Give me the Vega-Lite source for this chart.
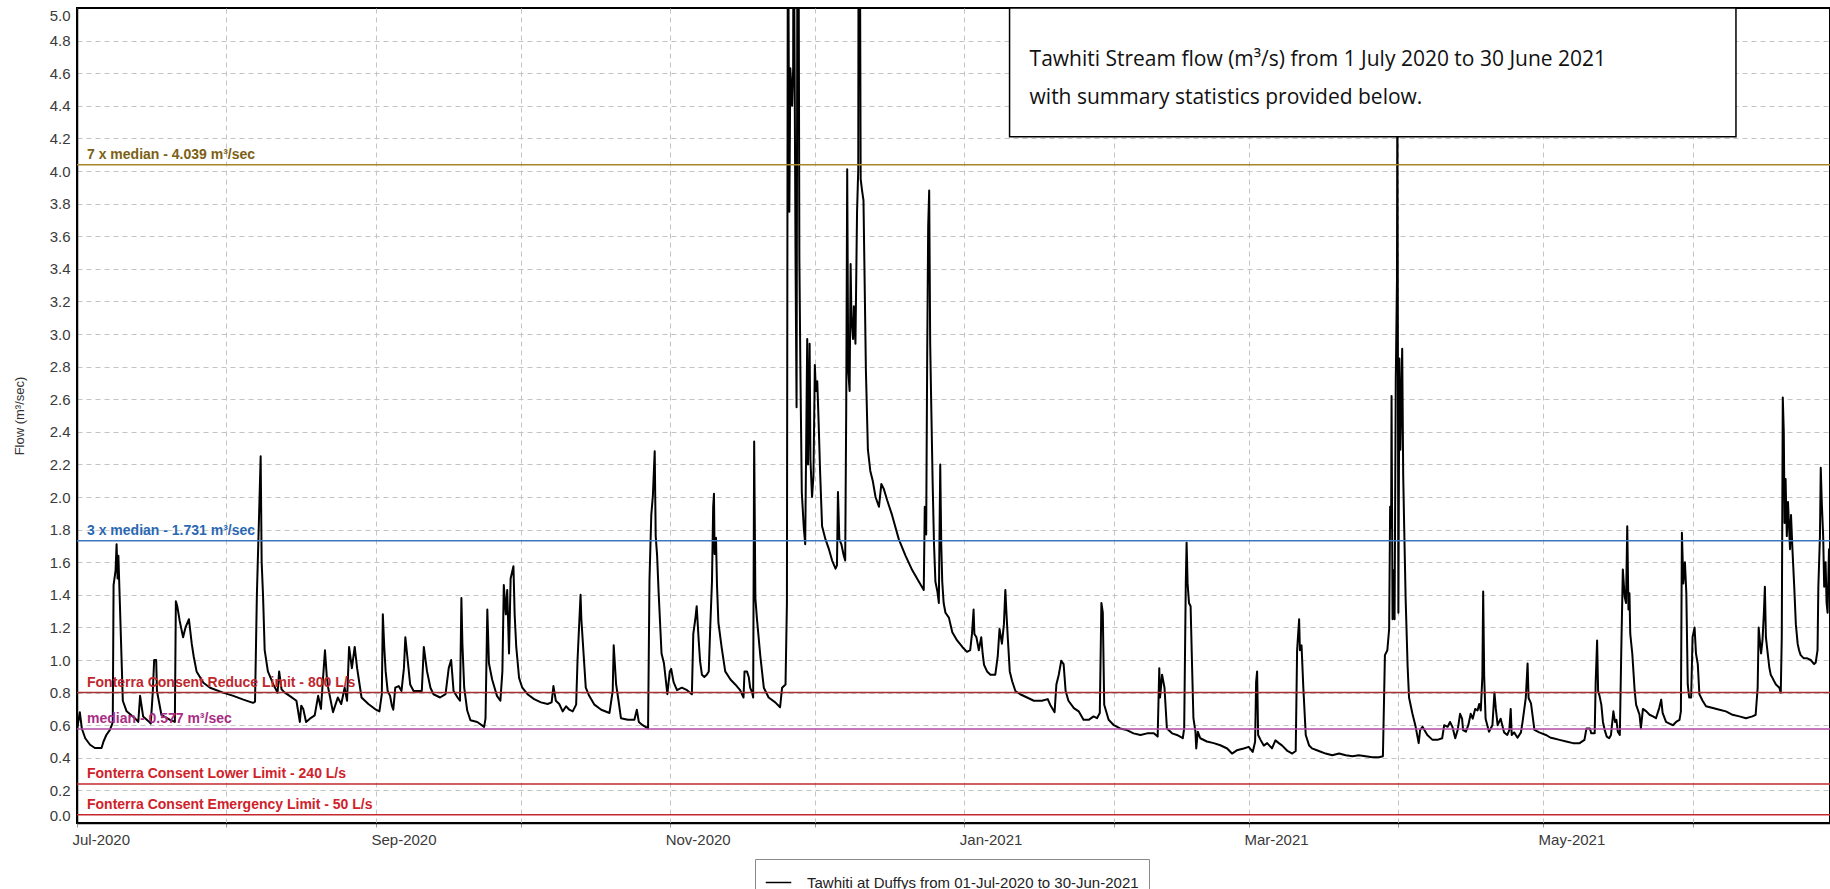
{
  "$schema": "https://vega.github.io/schema/vega-lite/v6.json",
  "width": 1753,
  "height": 815,
  "autosize": "none",
  "padding": {"left": 77, "top": 8, "right": 0, "bottom": 66},
  "background": "white",
  "config": {
    "view": {"stroke": "#000", "strokeWidth": 2},
    "axis": {
      "labelFont": "Liberation Sans",
      "labelFontSize": 15,
      "labelColor": "#3a3a3a",
      "labelOverlap": false,
      "gridColor": "#c4c4c4",
      "gridDash": [5, 4],
      "gridWidth": 1,
      "domainColor": "#000",
      "domainWidth": 1.5,
      "tickColor": "#999999"
    },
    "axisY": {"labelOverlap": false, "labelBound": false},
    "legend": {
      "strokeColor": "#8a8a8a",
      "fillColor": "white",
      "padding": 10,
      "symbolType": "stroke",
      "symbolSize": 650,
      "symbolStrokeWidth": 1.5,
      "labelFont": "Liberation Sans",
      "labelFontSize": 15,
      "labelColor": "#222222",
      "labelOffset": 15,
      "labelLimit": 0
    }
  },
  "datasets": {
    "flow": [
      {"t": "2020-07-01T00:00", "flow": 0.57}, {"t": "2020-07-01T14:00", "flow": 0.68}, {"t": "2020-07-02T00:00", "flow": 0.58},
      {"t": "2020-07-02T17:00", "flow": 0.52}, {"t": "2020-07-03T17:00", "flow": 0.48}, {"t": "2020-07-04T17:00", "flow": 0.46},
      {"t": "2020-07-06T02:00", "flow": 0.46}, {"t": "2020-07-06T12:00", "flow": 0.5}, {"t": "2020-07-07T02:00", "flow": 0.54},
      {"t": "2020-07-07T19:00", "flow": 0.57}, {"t": "2020-07-08T05:00", "flow": 0.6}, {"t": "2020-07-08T10:00", "flow": 0.62},
      {"t": "2020-07-08T14:00", "flow": 1.46}, {"t": "2020-07-09T00:00", "flow": 1.55}, {"t": "2020-07-09T05:00", "flow": 1.71},
      {"t": "2020-07-09T10:00", "flow": 1.5}, {"t": "2020-07-09T14:00", "flow": 1.64}, {"t": "2020-07-09T22:00", "flow": 1.32},
      {"t": "2020-07-10T12:00", "flow": 0.75}, {"t": "2020-07-11T07:00", "flow": 0.685}, {"t": "2020-07-13T00:00", "flow": 0.643},
      {"t": "2020-07-13T17:00", "flow": 0.62}, {"t": "2020-07-14T02:00", "flow": 0.78}, {"t": "2020-07-14T17:00", "flow": 0.654},
      {"t": "2020-07-16T00:00", "flow": 0.62}, {"t": "2020-07-16T07:00", "flow": 0.61}, {"t": "2020-07-16T17:00", "flow": 0.8},
      {"t": "2020-07-17T00:00", "flow": 1.0}, {"t": "2020-07-17T10:00", "flow": 1.0}, {"t": "2020-07-17T14:00", "flow": 0.81},
      {"t": "2020-07-18T12:00", "flow": 0.664}, {"t": "2020-07-20T07:00", "flow": 0.633}, {"t": "2020-07-21T07:00", "flow": 0.62},
      {"t": "2020-07-21T12:00", "flow": 1.36}, {"t": "2020-07-21T19:00", "flow": 1.33}, {"t": "2020-07-22T07:00", "flow": 1.24},
      {"t": "2020-07-23T00:00", "flow": 1.14}, {"t": "2020-07-23T12:00", "flow": 1.2}, {"t": "2020-07-24T05:00", "flow": 1.25},
      {"t": "2020-07-24T19:00", "flow": 1.1}, {"t": "2020-07-25T05:00", "flow": 1.02}, {"t": "2020-07-25T19:00", "flow": 0.93},
      {"t": "2020-07-27T05:00", "flow": 0.86}, {"t": "2020-07-28T14:00", "flow": 0.83}, {"t": "2020-07-31T07:00", "flow": 0.8},
      {"t": "2020-08-02T10:00", "flow": 0.78}, {"t": "2020-08-04T12:00", "flow": 0.757}, {"t": "2020-08-06T12:00", "flow": 0.737},
      {"t": "2020-08-06T22:00", "flow": 0.745}, {"t": "2020-08-07T07:00", "flow": 1.39}, {"t": "2020-08-07T19:00", "flow": 1.93},
      {"t": "2020-08-08T02:00", "flow": 2.25}, {"t": "2020-08-08T07:00", "flow": 1.6}, {"t": "2020-08-08T14:00", "flow": 1.39},
      {"t": "2020-08-08T22:00", "flow": 1.06}, {"t": "2020-08-09T14:00", "flow": 0.93}, {"t": "2020-08-10T17:00", "flow": 0.85},
      {"t": "2020-08-11T14:00", "flow": 0.8}, {"t": "2020-08-11T22:00", "flow": 0.93}, {"t": "2020-08-12T10:00", "flow": 0.82},
      {"t": "2020-08-13T02:00", "flow": 0.8}, {"t": "2020-08-14T02:00", "flow": 0.78}, {"t": "2020-08-15T12:00", "flow": 0.75},
      {"t": "2020-08-16T05:00", "flow": 0.62}, {"t": "2020-08-16T12:00", "flow": 0.72}, {"t": "2020-08-16T22:00", "flow": 0.7},
      {"t": "2020-08-17T12:00", "flow": 0.62}, {"t": "2020-08-18T07:00", "flow": 0.64}, {"t": "2020-08-19T07:00", "flow": 0.66},
      {"t": "2020-08-20T00:00", "flow": 0.78}, {"t": "2020-08-20T14:00", "flow": 0.7}, {"t": "2020-08-21T10:00", "flow": 1.06},
      {"t": "2020-08-21T19:00", "flow": 0.9}, {"t": "2020-08-22T02:00", "flow": 0.83}, {"t": "2020-08-23T02:00", "flow": 0.68},
      {"t": "2020-08-24T02:00", "flow": 0.77}, {"t": "2020-08-24T19:00", "flow": 0.73}, {"t": "2020-08-25T12:00", "flow": 0.83},
      {"t": "2020-08-26T00:00", "flow": 0.75}, {"t": "2020-08-26T10:00", "flow": 1.08}, {"t": "2020-08-27T00:00", "flow": 0.95},
      {"t": "2020-08-27T14:00", "flow": 1.08}, {"t": "2020-08-28T02:00", "flow": 0.95}, {"t": "2020-08-29T00:00", "flow": 0.77},
      {"t": "2020-08-30T10:00", "flow": 0.73}, {"t": "2020-09-01T00:00", "flow": 0.695}, {"t": "2020-09-01T17:00", "flow": 0.685},
      {"t": "2020-09-02T05:00", "flow": 0.79}, {"t": "2020-09-02T10:00", "flow": 1.28}, {"t": "2020-09-02T17:00", "flow": 1.08},
      {"t": "2020-09-03T00:00", "flow": 0.93}, {"t": "2020-09-03T10:00", "flow": 0.81}, {"t": "2020-09-03T22:00", "flow": 0.78},
      {"t": "2020-09-04T07:00", "flow": 0.72}, {"t": "2020-09-04T14:00", "flow": 0.695}, {"t": "2020-09-05T00:00", "flow": 0.83},
      {"t": "2020-09-05T17:00", "flow": 0.84}, {"t": "2020-09-06T07:00", "flow": 0.81}, {"t": "2020-09-06T19:00", "flow": 0.95},
      {"t": "2020-09-07T02:00", "flow": 1.14}, {"t": "2020-09-07T12:00", "flow": 1.02}, {"t": "2020-09-08T02:00", "flow": 0.85},
      {"t": "2020-09-08T19:00", "flow": 0.81}, {"t": "2020-09-10T12:00", "flow": 0.81}, {"t": "2020-09-10T22:00", "flow": 1.08},
      {"t": "2020-09-11T14:00", "flow": 0.93}, {"t": "2020-09-12T07:00", "flow": 0.83}, {"t": "2020-09-12T22:00", "flow": 0.79},
      {"t": "2020-09-14T07:00", "flow": 0.77}, {"t": "2020-09-15T10:00", "flow": 0.79}, {"t": "2020-09-16T02:00", "flow": 0.95},
      {"t": "2020-09-16T14:00", "flow": 1.0}, {"t": "2020-09-17T02:00", "flow": 0.81}, {"t": "2020-09-17T22:00", "flow": 0.77},
      {"t": "2020-09-18T10:00", "flow": 0.75}, {"t": "2020-09-18T17:00", "flow": 1.38}, {"t": "2020-09-18T22:00", "flow": 1.1},
      {"t": "2020-09-19T07:00", "flow": 0.83}, {"t": "2020-09-19T22:00", "flow": 0.69}, {"t": "2020-09-20T14:00", "flow": 0.63},
      {"t": "2020-09-22T00:00", "flow": 0.62}, {"t": "2020-09-23T10:00", "flow": 0.59}, {"t": "2020-09-23T17:00", "flow": 0.64},
      {"t": "2020-09-24T02:00", "flow": 1.31}, {"t": "2020-09-24T10:00", "flow": 0.98}, {"t": "2020-09-25T02:00", "flow": 0.88},
      {"t": "2020-09-25T14:00", "flow": 0.83}, {"t": "2020-09-26T02:00", "flow": 0.78}, {"t": "2020-09-26T19:00", "flow": 0.75},
      {"t": "2020-09-27T05:00", "flow": 0.93}, {"t": "2020-09-27T12:00", "flow": 1.46}, {"t": "2020-09-27T22:00", "flow": 1.28},
      {"t": "2020-09-28T05:00", "flow": 1.43}, {"t": "2020-09-28T14:00", "flow": 1.04}, {"t": "2020-09-28T22:00", "flow": 1.5},
      {"t": "2020-09-29T12:00", "flow": 1.575}, {"t": "2020-09-29T18:00", "flow": 1.28}, {"t": "2020-09-30T02:00", "flow": 1.08},
      {"t": "2020-09-30T16:00", "flow": 0.89}, {"t": "2020-10-01T08:00", "flow": 0.83}, {"t": "2020-10-02T10:00", "flow": 0.79},
      {"t": "2020-10-03T19:00", "flow": 0.76}, {"t": "2020-10-05T05:00", "flow": 0.74}, {"t": "2020-10-06T14:00", "flow": 0.73},
      {"t": "2020-10-07T10:00", "flow": 0.74}, {"t": "2020-10-07T19:00", "flow": 0.84}, {"t": "2020-10-08T07:00", "flow": 0.75},
      {"t": "2020-10-09T00:00", "flow": 0.73}, {"t": "2020-10-09T17:00", "flow": 0.685}, {"t": "2020-10-10T10:00", "flow": 0.716},
      {"t": "2020-10-11T02:00", "flow": 0.695}, {"t": "2020-10-11T19:00", "flow": 0.685}, {"t": "2020-10-12T12:00", "flow": 0.726},
      {"t": "2020-10-12T19:00", "flow": 1.0}, {"t": "2020-10-13T10:00", "flow": 1.4}, {"t": "2020-10-13T14:00", "flow": 1.25},
      {"t": "2020-10-14T02:00", "flow": 1.02}, {"t": "2020-10-14T12:00", "flow": 0.83}, {"t": "2020-10-15T05:00", "flow": 0.78},
      {"t": "2020-10-16T07:00", "flow": 0.726}, {"t": "2020-10-17T17:00", "flow": 0.695}, {"t": "2020-10-19T10:00", "flow": 0.675},
      {"t": "2020-10-20T02:00", "flow": 0.81}, {"t": "2020-10-20T07:00", "flow": 1.09}, {"t": "2020-10-20T19:00", "flow": 0.85},
      {"t": "2020-10-21T07:00", "flow": 0.75}, {"t": "2020-10-21T19:00", "flow": 0.643}, {"t": "2020-10-23T05:00", "flow": 0.633},
      {"t": "2020-10-24T14:00", "flow": 0.633}, {"t": "2020-10-25T02:00", "flow": 0.695}, {"t": "2020-10-25T12:00", "flow": 0.62},
      {"t": "2020-10-26T07:00", "flow": 0.6}, {"t": "2020-10-27T10:00", "flow": 0.58}, {"t": "2020-10-27T17:00", "flow": 1.49},
      {"t": "2020-10-28T02:00", "flow": 1.89}, {"t": "2020-10-28T10:00", "flow": 2.01}, {"t": "2020-10-28T19:00", "flow": 2.28},
      {"t": "2020-10-29T00:00", "flow": 1.76}, {"t": "2020-10-29T07:00", "flow": 1.64}, {"t": "2020-10-29T14:00", "flow": 1.43},
      {"t": "2020-10-29T22:00", "flow": 1.22}, {"t": "2020-10-30T05:00", "flow": 1.04}, {"t": "2020-10-30T17:00", "flow": 0.98},
      {"t": "2020-10-31T10:00", "flow": 0.79}, {"t": "2020-10-31T22:00", "flow": 0.93}, {"t": "2020-11-01T05:00", "flow": 0.945},
      {"t": "2020-11-01T17:00", "flow": 0.864}, {"t": "2020-11-02T10:00", "flow": 0.815}, {"t": "2020-11-03T10:00", "flow": 0.83},
      {"t": "2020-11-04T12:00", "flow": 0.815}, {"t": "2020-11-05T12:00", "flow": 0.79}, {"t": "2020-11-05T19:00", "flow": 1.16},
      {"t": "2020-11-06T05:00", "flow": 1.25}, {"t": "2020-11-06T12:00", "flow": 1.33}, {"t": "2020-11-06T22:00", "flow": 1.12},
      {"t": "2020-11-07T05:00", "flow": 0.99}, {"t": "2020-11-07T14:00", "flow": 0.91}, {"t": "2020-11-08T02:00", "flow": 0.896},
      {"t": "2020-11-08T14:00", "flow": 0.91}, {"t": "2020-11-09T00:00", "flow": 0.93}, {"t": "2020-11-09T07:00", "flow": 1.19},
      {"t": "2020-11-09T16:00", "flow": 1.48}, {"t": "2020-11-09T22:00", "flow": 1.94}, {"t": "2020-11-10T02:00", "flow": 2.02},
      {"t": "2020-11-10T05:00", "flow": 1.65}, {"t": "2020-11-10T12:00", "flow": 1.75}, {"t": "2020-11-10T17:00", "flow": 1.46},
      {"t": "2020-11-11T00:00", "flow": 1.23}, {"t": "2020-11-11T17:00", "flow": 1.07}, {"t": "2020-11-12T10:00", "flow": 0.93},
      {"t": "2020-11-13T12:00", "flow": 0.88}, {"t": "2020-11-14T12:00", "flow": 0.85}, {"t": "2020-11-15T12:00", "flow": 0.815},
      {"t": "2020-11-16T05:00", "flow": 0.77}, {"t": "2020-11-16T10:00", "flow": 0.93}, {"t": "2020-11-16T22:00", "flow": 0.93},
      {"t": "2020-11-17T07:00", "flow": 0.896}, {"t": "2020-11-17T14:00", "flow": 0.83}, {"t": "2020-11-18T00:00", "flow": 0.8},
      {"t": "2020-11-18T05:00", "flow": 0.77}, {"t": "2020-11-18T10:00", "flow": 2.34}, {"t": "2020-11-18T16:00", "flow": 1.38},
      {"t": "2020-11-19T00:00", "flow": 1.25}, {"t": "2020-11-19T17:00", "flow": 1.02}, {"t": "2020-11-20T10:00", "flow": 0.83},
      {"t": "2020-11-21T10:00", "flow": 0.77}, {"t": "2020-11-22T19:00", "flow": 0.74}, {"t": "2020-11-23T19:00", "flow": 0.71},
      {"t": "2020-11-24T05:00", "flow": 0.83}, {"t": "2020-11-24T22:00", "flow": 0.85}, {"t": "2020-11-25T05:00", "flow": 1.35},
      {"t": "2020-11-25T10:00", "flow": 6.0}, {"t": "2020-11-25T17:00", "flow": 3.75}, {"t": "2020-11-25T22:00", "flow": 4.63},
      {"t": "2020-11-26T07:00", "flow": 4.4}, {"t": "2020-11-26T12:00", "flow": 4.63}, {"t": "2020-11-26T14:00", "flow": 6.0},
      {"t": "2020-11-27T00:00", "flow": 3.43}, {"t": "2020-11-27T05:00", "flow": 2.55}, {"t": "2020-11-27T10:00", "flow": 6.0},
      {"t": "2020-11-27T14:00", "flow": 6.0}, {"t": "2020-11-27T19:00", "flow": 3.46}, {"t": "2020-11-28T00:00", "flow": 2.78},
      {"t": "2020-11-28T07:00", "flow": 2.03}, {"t": "2020-11-28T17:00", "flow": 1.81}, {"t": "2020-11-29T00:00", "flow": 1.71},
      {"t": "2020-11-29T10:00", "flow": 2.97}, {"t": "2020-11-29T14:00", "flow": 2.2}, {"t": "2020-11-29T22:00", "flow": 2.94},
      {"t": "2020-11-30T02:00", "flow": 2.23}, {"t": "2020-11-30T10:00", "flow": 2.0}, {"t": "2020-11-30T17:00", "flow": 2.13},
      {"t": "2020-12-01T00:00", "flow": 2.81}, {"t": "2020-12-01T05:00", "flow": 2.65}, {"t": "2020-12-01T12:00", "flow": 2.71},
      {"t": "2020-12-01T19:00", "flow": 2.45}, {"t": "2020-12-02T02:00", "flow": 2.16}, {"t": "2020-12-02T12:00", "flow": 1.82},
      {"t": "2020-12-03T05:00", "flow": 1.74}, {"t": "2020-12-03T22:00", "flow": 1.68}, {"t": "2020-12-04T14:00", "flow": 1.61},
      {"t": "2020-12-05T07:00", "flow": 1.56}, {"t": "2020-12-05T14:00", "flow": 1.58}, {"t": "2020-12-05T19:00", "flow": 2.03},
      {"t": "2020-12-06T02:00", "flow": 1.74}, {"t": "2020-12-06T12:00", "flow": 1.71}, {"t": "2020-12-07T00:00", "flow": 1.64},
      {"t": "2020-12-07T07:00", "flow": 1.61}, {"t": "2020-12-07T12:00", "flow": 2.52}, {"t": "2020-12-07T17:00", "flow": 4.01},
      {"t": "2020-12-07T22:00", "flow": 2.78}, {"t": "2020-12-08T05:00", "flow": 2.65}, {"t": "2020-12-08T10:00", "flow": 3.43},
      {"t": "2020-12-08T14:00", "flow": 3.1}, {"t": "2020-12-08T22:00", "flow": 2.97}, {"t": "2020-12-09T02:00", "flow": 3.17},
      {"t": "2020-12-09T10:00", "flow": 2.94}, {"t": "2020-12-09T18:00", "flow": 3.75}, {"t": "2020-12-10T00:00", "flow": 4.01},
      {"t": "2020-12-10T02:00", "flow": 6.0}, {"t": "2020-12-10T07:00", "flow": 6.0}, {"t": "2020-12-10T12:00", "flow": 3.95},
      {"t": "2020-12-10T19:00", "flow": 3.88}, {"t": "2020-12-11T02:00", "flow": 3.82}, {"t": "2020-12-11T08:00", "flow": 3.3},
      {"t": "2020-12-11T14:00", "flow": 2.78}, {"t": "2020-12-12T00:00", "flow": 2.29}, {"t": "2020-12-12T12:00", "flow": 2.16},
      {"t": "2020-12-13T00:00", "flow": 2.1}, {"t": "2020-12-13T14:00", "flow": 2.0}, {"t": "2020-12-14T07:00", "flow": 1.94},
      {"t": "2020-12-14T19:00", "flow": 2.08}, {"t": "2020-12-15T07:00", "flow": 2.05}, {"t": "2020-12-16T00:00", "flow": 1.98},
      {"t": "2020-12-17T00:00", "flow": 1.89}, {"t": "2020-12-18T10:00", "flow": 1.74}, {"t": "2020-12-19T19:00", "flow": 1.64},
      {"t": "2020-12-21T05:00", "flow": 1.55}, {"t": "2020-12-22T14:00", "flow": 1.48}, {"t": "2020-12-23T14:00", "flow": 1.43},
      {"t": "2020-12-23T19:00", "flow": 1.94}, {"t": "2020-12-24T02:00", "flow": 1.77}, {"t": "2020-12-24T07:00", "flow": 2.85},
      {"t": "2020-12-24T12:00", "flow": 3.66}, {"t": "2020-12-24T17:00", "flow": 3.88}, {"t": "2020-12-24T22:00", "flow": 2.94},
      {"t": "2020-12-25T02:00", "flow": 2.65}, {"t": "2020-12-25T10:00", "flow": 2.1}, {"t": "2020-12-25T17:00", "flow": 1.71},
      {"t": "2020-12-26T00:00", "flow": 1.48}, {"t": "2020-12-26T10:00", "flow": 1.42}, {"t": "2020-12-26T17:00", "flow": 1.35},
      {"t": "2020-12-27T00:00", "flow": 2.2}, {"t": "2020-12-27T05:00", "flow": 1.71}, {"t": "2020-12-27T10:00", "flow": 1.48},
      {"t": "2020-12-27T17:00", "flow": 1.35}, {"t": "2020-12-28T02:00", "flow": 1.29}, {"t": "2020-12-28T19:00", "flow": 1.26},
      {"t": "2020-12-29T12:00", "flow": 1.17}, {"t": "2020-12-30T12:00", "flow": 1.12}, {"t": "2020-12-31T14:00", "flow": 1.08},
      {"t": "2021-01-01T13:00", "flow": 1.05}, {"t": "2021-01-02T05:00", "flow": 1.06}, {"t": "2021-01-02T14:00", "flow": 1.16},
      {"t": "2021-01-02T22:00", "flow": 1.31}, {"t": "2021-01-03T02:00", "flow": 1.16}, {"t": "2021-01-03T12:00", "flow": 1.14},
      {"t": "2021-01-04T00:00", "flow": 1.06}, {"t": "2021-01-04T12:00", "flow": 1.14}, {"t": "2021-01-04T19:00", "flow": 1.04},
      {"t": "2021-01-05T02:00", "flow": 0.97}, {"t": "2021-01-05T17:00", "flow": 0.93}, {"t": "2021-01-06T10:00", "flow": 0.91},
      {"t": "2021-01-07T10:00", "flow": 0.91}, {"t": "2021-01-07T22:00", "flow": 1.02}, {"t": "2021-01-08T07:00", "flow": 1.19},
      {"t": "2021-01-08T19:00", "flow": 1.1}, {"t": "2021-01-09T05:00", "flow": 1.22}, {"t": "2021-01-09T12:00", "flow": 1.43},
      {"t": "2021-01-09T17:00", "flow": 1.3}, {"t": "2021-01-10T00:00", "flow": 1.14}, {"t": "2021-01-10T10:00", "flow": 0.93},
      {"t": "2021-01-10T22:00", "flow": 0.87}, {"t": "2021-01-11T14:00", "flow": 0.81}, {"t": "2021-01-12T14:00", "flow": 0.79},
      {"t": "2021-01-14T00:00", "flow": 0.77}, {"t": "2021-01-15T10:00", "flow": 0.75}, {"t": "2021-01-17T02:00", "flow": 0.75},
      {"t": "2021-01-18T07:00", "flow": 0.76}, {"t": "2021-01-18T19:00", "flow": 0.726}, {"t": "2021-01-19T17:00", "flow": 0.68},
      {"t": "2021-01-20T02:00", "flow": 0.85}, {"t": "2021-01-20T14:00", "flow": 0.91}, {"t": "2021-01-21T02:00", "flow": 0.995},
      {"t": "2021-01-21T14:00", "flow": 0.975}, {"t": "2021-01-22T00:00", "flow": 0.81}, {"t": "2021-01-22T14:00", "flow": 0.75},
      {"t": "2021-01-23T17:00", "flow": 0.705}, {"t": "2021-01-24T17:00", "flow": 0.685}, {"t": "2021-01-25T17:00", "flow": 0.633},
      {"t": "2021-01-26T19:00", "flow": 0.633}, {"t": "2021-01-27T19:00", "flow": 0.654}, {"t": "2021-01-28T12:00", "flow": 0.643},
      {"t": "2021-01-29T02:00", "flow": 0.675}, {"t": "2021-01-29T10:00", "flow": 1.35}, {"t": "2021-01-29T17:00", "flow": 1.29},
      {"t": "2021-01-30T00:00", "flow": 0.726}, {"t": "2021-01-30T22:00", "flow": 0.633}, {"t": "2021-02-01T00:00", "flow": 0.6},
      {"t": "2021-02-02T07:00", "flow": 0.58}, {"t": "2021-02-03T17:00", "flow": 0.57}, {"t": "2021-02-05T02:00", "flow": 0.55},
      {"t": "2021-02-06T12:00", "flow": 0.54}, {"t": "2021-02-07T22:00", "flow": 0.55}, {"t": "2021-02-09T07:00", "flow": 0.55},
      {"t": "2021-02-10T02:00", "flow": 0.53}, {"t": "2021-02-10T10:00", "flow": 0.95}, {"t": "2021-02-10T14:00", "flow": 0.77},
      {"t": "2021-02-11T00:00", "flow": 0.91}, {"t": "2021-02-11T12:00", "flow": 0.83}, {"t": "2021-02-12T00:00", "flow": 0.58},
      {"t": "2021-02-13T02:00", "flow": 0.55}, {"t": "2021-02-14T02:00", "flow": 0.54}, {"t": "2021-02-15T07:00", "flow": 0.52},
      {"t": "2021-02-15T14:00", "flow": 0.58}, {"t": "2021-02-15T22:00", "flow": 1.47}, {"t": "2021-02-16T02:00", "flow": 1.72},
      {"t": "2021-02-16T07:00", "flow": 1.47}, {"t": "2021-02-16T14:00", "flow": 1.35}, {"t": "2021-02-16T22:00", "flow": 1.33},
      {"t": "2021-02-17T05:00", "flow": 0.975}, {"t": "2021-02-17T12:00", "flow": 0.643}, {"t": "2021-02-17T22:00", "flow": 0.56},
      {"t": "2021-02-18T02:00", "flow": 0.457}, {"t": "2021-02-18T10:00", "flow": 0.56}, {"t": "2021-02-18T22:00", "flow": 0.52},
      {"t": "2021-02-20T07:00", "flow": 0.5}, {"t": "2021-02-21T17:00", "flow": 0.49}, {"t": "2021-02-23T02:00", "flow": 0.477},
      {"t": "2021-02-24T12:00", "flow": 0.457}, {"t": "2021-02-25T12:00", "flow": 0.426}, {"t": "2021-02-26T12:00", "flow": 0.446},
      {"t": "2021-02-27T22:00", "flow": 0.457}, {"t": "2021-02-28T23:00", "flow": 0.467}, {"t": "2021-03-01T19:00", "flow": 0.436},
      {"t": "2021-03-02T07:00", "flow": 0.498}, {"t": "2021-03-02T12:00", "flow": 0.864}, {"t": "2021-03-02T17:00", "flow": 0.93},
      {"t": "2021-03-02T22:00", "flow": 0.54}, {"t": "2021-03-03T10:00", "flow": 0.51}, {"t": "2021-03-04T02:00", "flow": 0.475},
      {"t": "2021-03-04T19:00", "flow": 0.49}, {"t": "2021-03-05T19:00", "flow": 0.458}, {"t": "2021-03-06T12:00", "flow": 0.507},
      {"t": "2021-03-07T05:00", "flow": 0.49}, {"t": "2021-03-07T22:00", "flow": 0.475}, {"t": "2021-03-09T00:00", "flow": 0.442},
      {"t": "2021-03-10T00:00", "flow": 0.426}, {"t": "2021-03-10T17:00", "flow": 0.442}, {"t": "2021-03-11T00:00", "flow": 1.06},
      {"t": "2021-03-11T10:00", "flow": 1.25}, {"t": "2021-03-11T14:00", "flow": 1.06}, {"t": "2021-03-11T22:00", "flow": 1.09},
      {"t": "2021-03-12T07:00", "flow": 0.83}, {"t": "2021-03-12T19:00", "flow": 0.54}, {"t": "2021-03-13T12:00", "flow": 0.475},
      {"t": "2021-03-14T02:00", "flow": 0.458}, {"t": "2021-03-15T12:00", "flow": 0.442}, {"t": "2021-03-16T22:00", "flow": 0.426},
      {"t": "2021-03-18T07:00", "flow": 0.416}, {"t": "2021-03-19T17:00", "flow": 0.426}, {"t": "2021-03-21T02:00", "flow": 0.416},
      {"t": "2021-03-22T12:00", "flow": 0.41}, {"t": "2021-03-23T19:00", "flow": 0.416}, {"t": "2021-03-25T05:00", "flow": 0.41},
      {"t": "2021-03-26T14:00", "flow": 0.403}, {"t": "2021-03-28T00:00", "flow": 0.403}, {"t": "2021-03-28T19:00", "flow": 0.41},
      {"t": "2021-03-29T05:00", "flow": 1.03}, {"t": "2021-03-29T17:00", "flow": 1.06}, {"t": "2021-03-30T02:00", "flow": 1.19},
      {"t": "2021-03-30T07:00", "flow": 1.94}, {"t": "2021-03-30T12:00", "flow": 1.81}, {"t": "2021-03-30T14:00", "flow": 2.62},
      {"t": "2021-03-30T19:00", "flow": 1.25}, {"t": "2021-03-31T00:00", "flow": 1.55}, {"t": "2021-03-31T05:00", "flow": 1.25},
      {"t": "2021-03-31T11:00", "flow": 2.71}, {"t": "2021-03-31T17:00", "flow": 3.33}, {"t": "2021-03-31T19:00", "flow": 4.6},
      {"t": "2021-04-01T00:00", "flow": 1.29}, {"t": "2021-04-01T05:00", "flow": 2.85}, {"t": "2021-04-01T10:00", "flow": 2.29},
      {"t": "2021-04-01T14:00", "flow": 2.58}, {"t": "2021-04-01T19:00", "flow": 2.91}, {"t": "2021-04-02T00:00", "flow": 2.13},
      {"t": "2021-04-02T05:00", "flow": 1.81}, {"t": "2021-04-02T12:00", "flow": 1.38}, {"t": "2021-04-02T22:00", "flow": 0.96},
      {"t": "2021-04-03T05:00", "flow": 0.77}, {"t": "2021-04-03T22:00", "flow": 0.67}, {"t": "2021-04-04T14:00", "flow": 0.59},
      {"t": "2021-04-05T05:00", "flow": 0.49}, {"t": "2021-04-05T12:00", "flow": 0.57}, {"t": "2021-04-06T00:00", "flow": 0.59},
      {"t": "2021-04-07T00:00", "flow": 0.54}, {"t": "2021-04-08T02:00", "flow": 0.51}, {"t": "2021-04-09T02:00", "flow": 0.51},
      {"t": "2021-04-10T02:00", "flow": 0.52}, {"t": "2021-04-10T12:00", "flow": 0.6}, {"t": "2021-04-11T05:00", "flow": 0.59},
      {"t": "2021-04-11T17:00", "flow": 0.62}, {"t": "2021-04-12T05:00", "flow": 0.59}, {"t": "2021-04-12T19:00", "flow": 0.52},
      {"t": "2021-04-13T07:00", "flow": 0.57}, {"t": "2021-04-13T19:00", "flow": 0.67}, {"t": "2021-04-14T05:00", "flow": 0.64},
      {"t": "2021-04-14T10:00", "flow": 0.57}, {"t": "2021-04-15T00:00", "flow": 0.56}, {"t": "2021-04-15T12:00", "flow": 0.6},
      {"t": "2021-04-16T00:00", "flow": 0.67}, {"t": "2021-04-16T10:00", "flow": 0.64}, {"t": "2021-04-16T22:00", "flow": 0.7},
      {"t": "2021-04-17T10:00", "flow": 0.69}, {"t": "2021-04-17T18:00", "flow": 0.73}, {"t": "2021-04-18T02:00", "flow": 0.69},
      {"t": "2021-04-18T10:00", "flow": 0.9}, {"t": "2021-04-18T14:00", "flow": 1.42}, {"t": "2021-04-18T19:00", "flow": 0.9},
      {"t": "2021-04-19T02:00", "flow": 0.64}, {"t": "2021-04-19T19:00", "flow": 0.56}, {"t": "2021-04-20T12:00", "flow": 0.6},
      {"t": "2021-04-20T22:00", "flow": 0.8}, {"t": "2021-04-21T05:00", "flow": 0.7}, {"t": "2021-04-21T14:00", "flow": 0.6},
      {"t": "2021-04-22T05:00", "flow": 0.64}, {"t": "2021-04-22T22:00", "flow": 0.556}, {"t": "2021-04-23T14:00", "flow": 0.54},
      {"t": "2021-04-24T00:00", "flow": 0.57}, {"t": "2021-04-24T07:00", "flow": 0.7}, {"t": "2021-04-24T12:00", "flow": 0.54},
      {"t": "2021-04-25T00:00", "flow": 0.556}, {"t": "2021-04-25T17:00", "flow": 0.523}, {"t": "2021-04-26T10:00", "flow": 0.556},
      {"t": "2021-04-26T18:00", "flow": 0.62}, {"t": "2021-04-27T10:00", "flow": 0.767}, {"t": "2021-04-27T19:00", "flow": 0.978},
      {"t": "2021-04-28T00:00", "flow": 0.767}, {"t": "2021-04-28T12:00", "flow": 0.734}, {"t": "2021-04-29T05:00", "flow": 0.572},
      {"t": "2021-04-30T05:00", "flow": 0.556}, {"t": "2021-05-01T14:00", "flow": 0.54}, {"t": "2021-05-02T14:00", "flow": 0.523},
      {"t": "2021-05-03T02:00", "flow": 0.52}, {"t": "2021-05-04T10:00", "flow": 0.51}, {"t": "2021-05-05T19:00", "flow": 0.5},
      {"t": "2021-05-07T05:00", "flow": 0.49}, {"t": "2021-05-08T14:00", "flow": 0.49}, {"t": "2021-05-09T14:00", "flow": 0.51},
      {"t": "2021-05-10T00:00", "flow": 0.58}, {"t": "2021-05-10T17:00", "flow": 0.58}, {"t": "2021-05-11T00:00", "flow": 0.55},
      {"t": "2021-05-11T17:00", "flow": 0.55}, {"t": "2021-05-11T22:00", "flow": 0.87}, {"t": "2021-05-12T05:00", "flow": 1.12},
      {"t": "2021-05-12T10:00", "flow": 0.81}, {"t": "2021-05-12T17:00", "flow": 0.78}, {"t": "2021-05-13T02:00", "flow": 0.726},
      {"t": "2021-05-13T10:00", "flow": 0.62}, {"t": "2021-05-13T19:00", "flow": 0.57}, {"t": "2021-05-14T05:00", "flow": 0.53},
      {"t": "2021-05-14T17:00", "flow": 0.52}, {"t": "2021-05-15T02:00", "flow": 0.54}, {"t": "2021-05-15T14:00", "flow": 0.685},
      {"t": "2021-05-15T22:00", "flow": 0.62}, {"t": "2021-05-16T05:00", "flow": 0.633}, {"t": "2021-05-16T12:00", "flow": 0.56},
      {"t": "2021-05-16T22:00", "flow": 0.54}, {"t": "2021-05-17T05:00", "flow": 1.04}, {"t": "2021-05-17T13:00", "flow": 1.555},
      {"t": "2021-05-17T22:00", "flow": 1.39}, {"t": "2021-05-18T05:00", "flow": 1.35}, {"t": "2021-05-18T11:00", "flow": 1.82},
      {"t": "2021-05-18T17:00", "flow": 1.31}, {"t": "2021-05-18T22:00", "flow": 1.41}, {"t": "2021-05-19T02:00", "flow": 1.16},
      {"t": "2021-05-19T12:00", "flow": 1.04}, {"t": "2021-05-20T00:00", "flow": 0.81}, {"t": "2021-05-20T07:00", "flow": 0.726},
      {"t": "2021-05-21T00:00", "flow": 0.664}, {"t": "2021-05-21T07:00", "flow": 0.58}, {"t": "2021-05-21T17:00", "flow": 0.7},
      {"t": "2021-05-22T10:00", "flow": 0.685}, {"t": "2021-05-23T02:00", "flow": 0.664}, {"t": "2021-05-23T19:00", "flow": 0.654},
      {"t": "2021-05-24T10:00", "flow": 0.643}, {"t": "2021-05-25T02:00", "flow": 0.705}, {"t": "2021-05-25T12:00", "flow": 0.757},
      {"t": "2021-05-25T19:00", "flow": 0.675}, {"t": "2021-05-26T12:00", "flow": 0.62}, {"t": "2021-05-27T05:00", "flow": 0.61},
      {"t": "2021-05-27T22:00", "flow": 0.6}, {"t": "2021-05-28T14:00", "flow": 0.62}, {"t": "2021-05-29T07:00", "flow": 0.633},
      {"t": "2021-05-29T14:00", "flow": 0.685}, {"t": "2021-05-29T19:00", "flow": 1.78}, {"t": "2021-05-30T02:00", "flow": 1.47},
      {"t": "2021-05-30T10:00", "flow": 1.6}, {"t": "2021-05-30T17:00", "flow": 1.41}, {"t": "2021-05-31T00:00", "flow": 0.85},
      {"t": "2021-05-31T07:00", "flow": 0.77}, {"t": "2021-05-31T17:00", "flow": 0.77}, {"t": "2021-06-01T00:00", "flow": 1.14},
      {"t": "2021-06-01T10:00", "flow": 1.2}, {"t": "2021-06-01T17:00", "flow": 1.04}, {"t": "2021-06-02T02:00", "flow": 0.975},
      {"t": "2021-06-02T10:00", "flow": 0.79}, {"t": "2021-06-03T02:00", "flow": 0.75}, {"t": "2021-06-03T19:00", "flow": 0.716},
      {"t": "2021-06-05T05:00", "flow": 0.705}, {"t": "2021-06-06T14:00", "flow": 0.695}, {"t": "2021-06-07T22:00", "flow": 0.685},
      {"t": "2021-06-09T07:00", "flow": 0.664}, {"t": "2021-06-10T17:00", "flow": 0.654}, {"t": "2021-06-12T02:00", "flow": 0.643},
      {"t": "2021-06-13T10:00", "flow": 0.654}, {"t": "2021-06-14T02:00", "flow": 0.664}, {"t": "2021-06-14T12:00", "flow": 0.83},
      {"t": "2021-06-14T17:00", "flow": 1.2}, {"t": "2021-06-15T00:00", "flow": 1.1}, {"t": "2021-06-15T05:00", "flow": 1.04},
      {"t": "2021-06-15T12:00", "flow": 1.12}, {"t": "2021-06-15T19:00", "flow": 1.29}, {"t": "2021-06-16T00:00", "flow": 1.45},
      {"t": "2021-06-16T05:00", "flow": 1.14}, {"t": "2021-06-16T14:00", "flow": 1.04}, {"t": "2021-06-16T22:00", "flow": 0.954},
      {"t": "2021-06-17T05:00", "flow": 0.91}, {"t": "2021-06-17T14:00", "flow": 0.89}, {"t": "2021-06-17T22:00", "flow": 0.87},
      {"t": "2021-06-18T07:00", "flow": 0.85}, {"t": "2021-06-19T00:00", "flow": 0.83}, {"t": "2021-06-19T07:00", "flow": 0.8},
      {"t": "2021-06-19T12:00", "flow": 1.14}, {"t": "2021-06-19T17:00", "flow": 2.61}, {"t": "2021-06-19T22:00", "flow": 2.4},
      {"t": "2021-06-20T02:00", "flow": 1.84}, {"t": "2021-06-20T07:00", "flow": 2.11}, {"t": "2021-06-20T13:00", "flow": 1.76},
      {"t": "2021-06-20T19:00", "flow": 1.97}, {"t": "2021-06-21T05:00", "flow": 1.68}, {"t": "2021-06-21T10:00", "flow": 1.89},
      {"t": "2021-06-21T17:00", "flow": 1.68}, {"t": "2021-06-22T02:00", "flow": 1.45}, {"t": "2021-06-22T10:00", "flow": 1.22},
      {"t": "2021-06-22T19:00", "flow": 1.1}, {"t": "2021-06-23T02:00", "flow": 1.06}, {"t": "2021-06-23T10:00", "flow": 1.03},
      {"t": "2021-06-24T02:00", "flow": 1.01}, {"t": "2021-06-24T19:00", "flow": 1.01}, {"t": "2021-06-25T12:00", "flow": 1.0},
      {"t": "2021-06-26T05:00", "flow": 0.975}, {"t": "2021-06-26T13:00", "flow": 0.985}, {"t": "2021-06-26T22:00", "flow": 1.06},
      {"t": "2021-06-27T02:00", "flow": 1.45}, {"t": "2021-06-27T10:00", "flow": 1.76}, {"t": "2021-06-27T14:00", "flow": 2.18},
      {"t": "2021-06-27T19:00", "flow": 1.97}, {"t": "2021-06-28T02:00", "flow": 1.76}, {"t": "2021-06-28T07:00", "flow": 1.45},
      {"t": "2021-06-28T14:00", "flow": 1.6}, {"t": "2021-06-28T19:00", "flow": 1.35}, {"t": "2021-06-29T00:00", "flow": 1.29},
      {"t": "2021-06-29T07:00", "flow": 1.68}, {"t": "2021-06-29T17:00", "flow": 1.64}
    ],
    "limits": [
      {"value": 4.039, "name": "7 x median - 4.039 m³/sec"},
      {"value": 1.731, "name": "3 x median - 1.731 m³/sec"},
      {"value": 0.8, "name": "Fonterra Consent Reduce Limit - 800 L/s"},
      {"value": 0.577, "name": "median - 0.577 m³/sec"},
      {"value": 0.24, "name": "Fonterra Consent Lower Limit - 240 L/s"},
      {"value": 0.05, "name": "Fonterra Consent Emergency Limit - 50 L/s"}
    ],
    "caption": [
      {"line": "Tawhiti Stream flow (m³/s) from 1 July 2020 to 30 June 2021", "level": 4.68},
      {"line": "with summary statistics provided below.", "level": 4.45}
    ]
  },
  "layer": [
    {
      "data": {"name": "flow"},
      "mark": {"type": "line", "strokeWidth": 2, "strokeJoin": "round", "clip": true},
      "encoding": {
        "x": {
          "field": "t",
          "type": "temporal",
          "scale": {"domain": [{"year": 2020, "month": 7, "date": 1}, {"year": 2021, "month": 6, "date": 29, "hours": 12}]},
          "axis": {
            "title": null,
            "tickCount": {"interval": "month", "step": 1},
            "labelExpr": "month(datum.value) % 2 == 0 ? timeFormat(datum.value, '%b-%Y') : ''",
            "labelAlign": "left",
            "labelOffset": -5,
            "labelPadding": 5,
            "labelFlush": false,
            "labelBound": false,
            "labelOverlap": false,
            "tickSize": 4,
            "grid": true
          }
        },
        "y": {
          "field": "flow",
          "type": "quantitative",
          "scale": {"domain": [0, 5], "nice": false, "zero": true},
          "axis": {
            "tickCount": 25,
            "format": ".1f",
            "labelFlush": true,
            "labelOverlap": false,
            "labelBound": false,
            "ticks": false,
            "labelPadding": 7,
            "grid": true,
            "gridColor": {"condition": {"test": "datum.value >= 4.99", "value": "rgba(0,0,0,0)"}, "value": "#c4c4c4"},
            "title": "Flow (m³/sec)",
            "titleFont": "Liberation Sans",
            "titleFontSize": 13,
            "titleFontWeight": "normal",
            "titleColor": "#333333",
            "titlePadding": 23
          }
        },
        "stroke": {
          "datum": "Tawhiti at Duffys from 01-Jul-2020 to 30-Jun-2021",
          "type": "nominal",
          "scale": {"range": ["#000000"]},
          "legend": {"title": null, "orient": "none", "legendX": 678, "legendY": 851, "labelLimit": 0}
        }
      }
    },
    {
      "data": {"name": "limits"},
      "mark": {"type": "rule", "strokeWidth": 1.5},
      "encoding": {
        "y": {"field": "value", "type": "quantitative"},
        "color": {
          "field": "name",
          "type": "nominal",
          "scale": {
            "domain": ["7 x median - 4.039 m³/sec", "3 x median - 1.731 m³/sec", "Fonterra Consent Reduce Limit - 800 L/s", "median - 0.577 m³/sec", "Fonterra Consent Lower Limit - 240 L/s", "Fonterra Consent Emergency Limit - 50 L/s"],
            "range": ["#a8862e", "#3a78c0", "#a83236", "#b04aa2", "#c4282e", "#c4282e"]
          },
          "legend": null
        }
      }
    },
    {
      "data": {"name": "limits"},
      "mark": {
        "type": "text",
        "align": "left",
        "baseline": "alphabetic",
        "dx": 10,
        "dy": -6,
        "font": "Liberation Sans Narrow, Arial Narrow, Liberation Sans",
        "fontSize": 14,
        "fontWeight": "bold"
      },
      "encoding": {
        "x": {"datum": {"year": 2020, "month": 7, "date": 1}, "type": "temporal"},
        "y": {"field": "value", "type": "quantitative"},
        "text": {"field": "name"},
        "fill": {
          "field": "name",
          "type": "nominal",
          "scale": {
            "domain": ["7 x median - 4.039 m³/sec", "3 x median - 1.731 m³/sec", "Fonterra Consent Reduce Limit - 800 L/s", "median - 0.577 m³/sec", "Fonterra Consent Lower Limit - 240 L/s", "Fonterra Consent Emergency Limit - 50 L/s"],
            "range": ["#7d5f14", "#2a68b2", "#c0282e", "#a82c84", "#d0222a", "#d0222a"]
          },
          "legend": null
        }
      }
    },
    {
      "data": {"values": [{"box": "caption"}]},
      "mark": {"type": "rect", "fill": "white", "stroke": "#000000", "strokeWidth": 1.5},
      "encoding": {
        "x": {"datum": {"year": 2021, "month": 1, "date": 10, "hours": 9}, "type": "temporal"},
        "x2": {"datum": {"year": 2021, "month": 6, "date": 10}},
        "y": {"datum": 5},
        "y2": {"datum": 4.21}
      }
    },
    {
      "data": {"name": "caption"},
      "mark": {"type": "text", "align": "left", "baseline": "middle", "dx": 20, "font": "Open Sans", "fontSize": 21, "color": "#111111"},
      "encoding": {
        "x": {"datum": {"year": 2021, "month": 1, "date": 10, "hours": 9}, "type": "temporal"},
        "y": {"field": "level", "type": "quantitative"},
        "text": {"field": "line"}
      }
    }
  ]
}
